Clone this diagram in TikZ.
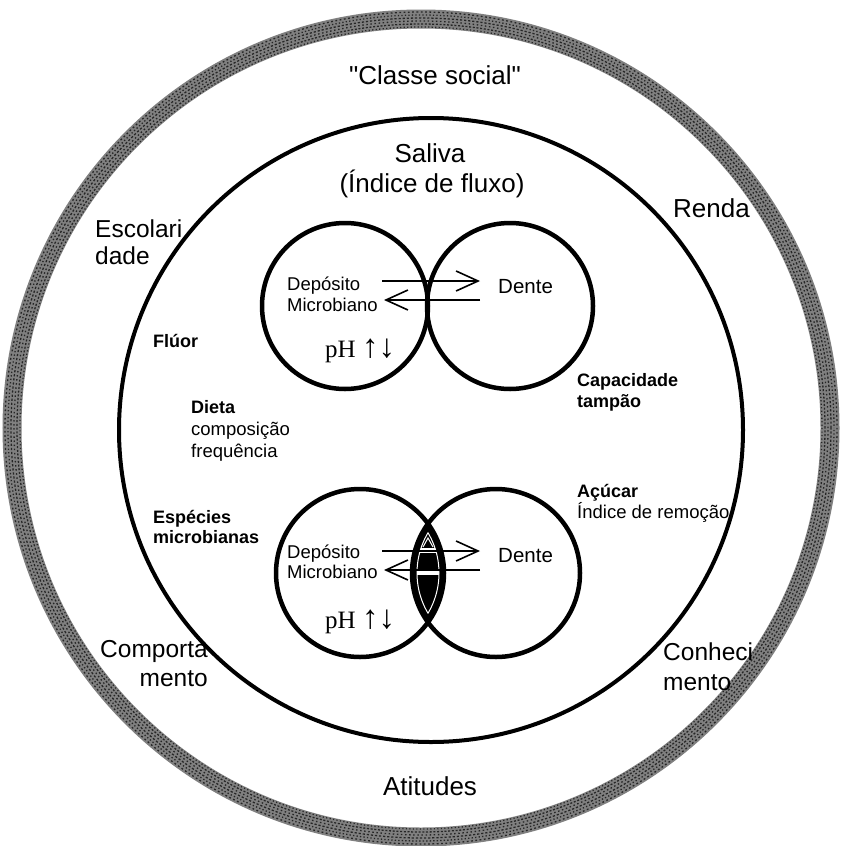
\documentclass[tikz,border=0pt]{standalone}
\usepackage{fontspec}
\setmainfont{Liberation Sans}
\newfontfamily\qfont{Liberation Sans}[Ligatures=TeXOff]
\newfontfamily\phfont{Liberation Serif}
\usetikzlibrary{arrows.meta}
\begin{document}
\begin{tikzpicture}[x=1pt,y=-1pt,
 big/.style={inner sep=0pt,font=\fontsize{26}{30}\selectfont},
 mid/.style={inner sep=0pt,font=\fontsize{24.5}{28}\selectfont},
 sm/.style={inner sep=0pt,font=\fontsize{18.5}{22}\selectfont},
 smb/.style={inner sep=0pt,font=\bfseries\fontsize{18}{22}\selectfont},
 dente/.style={inner sep=0pt,font=\fontsize{20.5}{24}\selectfont},
 ph/.style={inner sep=0pt,font=\phfont\fontsize{25}{28}\selectfont},
 circ/.style={line width=4.5pt},
 arr/.style={line width=1.8pt,-{Straight Barb[length=22pt,width=20pt,line width=1.6pt]}}
]
\useasboundingbox[fill=white] (0,0) rectangle (842,846);
% outer textured ring
\draw[line width=19pt, black!50] (421,428) circle[radius=409];
\foreach \r/\p/\a/\b in {401/0/1.2/2.3,404/1.3/2/1.7,407/2.1/1.5/2.6,410/0.7/2.2/1.9,413/1.7/1.3/2.2,416/0.4/1.8/2.5}
  \draw[black!85, line width=1.3pt, dash pattern=on \a pt off \b pt, dash phase=\p pt] (421,428) circle[radius=\r];
% inner circle
\draw[line width=4pt] (431,430) circle[radius=312];

% top pair
\draw[circ] (345,306) circle[radius=83];
\draw[circ] (510,306) circle[radius=83];

% bottom pair lens
\begin{scope}
  \clip (360,573) circle[radius=84];
  \fill (496,573) circle[radius=84];
\end{scope}
\begin{scope}
  \clip (360,573) circle[radius=79];
  \draw[white, line width=1pt] (496,573) circle[radius=79];
\end{scope}
\begin{scope}
  \clip (496,573) circle[radius=79];
  \draw[white, line width=1pt] (360,573) circle[radius=79];
\end{scope}
\begin{scope}
  \clip (360,573) circle[radius=79];
  \clip (496,573) circle[radius=79];
  \fill[white] (400,548) rectangle (460,553);
  \fill[white] (400,571) rectangle (460,575);
  \draw[white, line width=1pt] (423,547) -- (428,538) -- (433,547);
\end{scope}
\draw[circ] (360,573) circle[radius=84];
\draw[circ] (496,573) circle[radius=84];

% labels outside inner circle
\node[big, anchor=base] (classe) at (435,84) {\qfont "Classe social"};
\node[mid, anchor=base west] (esc1) at (95,237) {Escolari};
\node[mid, anchor=base west] (esc2) at (95,264) {dade};
\node[big, anchor=base west] (renda) at (673,217) {Renda};
\node[mid, anchor=base east] (comp1) at (208,657) {Comporta};
\node[mid, anchor=base east] (comp2) at (208,686) {mento};
\node[mid, anchor=base west] (con1) at (663,660) {Conheci};
\node[mid, anchor=base west] (con2) at (663,690) {mento};
\node[big, anchor=base] (atit) at (430,795) {Atitudes};

% labels inside inner circle
\node[big, anchor=base] (sal1) at (430,162) {Saliva};
\node[big, anchor=base] (sal2) at (432,192) {(Índice de fluxo)};
\node[smb, anchor=base west] (fluor) at (153,347) {Flúor};
\node[smb, anchor=base west] (dieta) at (191,413) {Dieta};
\node[sm, anchor=base west] (comp) at (191,435) {composição};
\node[sm, anchor=base west] (freq) at (191,457) {frequência};
\node[smb, anchor=base west] (esp1) at (153,523) {Espécies};
\node[smb, anchor=base west] (esp2) at (153,543) {microbianas};
\node[smb, anchor=base west] (cap1) at (577,386) {Capacidade};
\node[smb, anchor=base west] (cap2) at (577,407) {tampão};
\node[smb, anchor=base west] (acu) at (577,497) {Açúcar};
\node[sm, anchor=base west] (rem) at (577,518) {Índice de remoção};

% top pair texts
\node[sm, anchor=base west] (dA1) at (287,290) {Depósito};
\node[sm, anchor=base west] (dA2) at (287,311) {Microbiano};
\node[dente, anchor=base west] (tA) at (498,293) {Dente};
\node[ph, anchor=base west] (phA) at (325,357) {pH {\fontsize{33}{33}\selectfont↑↓}};
\coordinate (a1s) at (382,281);
\coordinate (a1e) at (480,281);
\coordinate (a2s) at (480,300);
\coordinate (a2e) at (384,300);
\draw[arr] (a1s) -- (a1e);
\draw[arr] (a2s) -- (a2e);

% bottom pair texts
\node[sm, anchor=base west] (dB1) at (287,558) {Depósito};
\node[sm, anchor=base west] (dB2) at (287,578) {Microbiano};
\node[dente, anchor=base west] (tB) at (498,562) {Dente};
\node[ph, anchor=base west] (phB) at (325,628) {pH {\fontsize{33}{33}\selectfont↑↓}};
\coordinate (b1s) at (382,551);
\coordinate (b1e) at (480,551);
\coordinate (b2s) at (480,570);
\coordinate (b2e) at (384,570);
\draw[arr] (b1s) -- (b1e);
\draw[arr] (b2s) -- (b2e);
\end{tikzpicture}
\end{document}
